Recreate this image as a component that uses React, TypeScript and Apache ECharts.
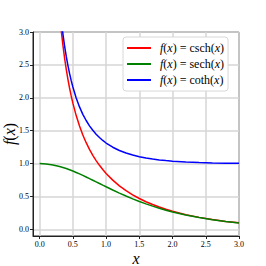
import React, { useEffect, useRef } from "react";
import * as echarts from "echarts";

const xTicks = [0, 0.5, 1.0, 1.5, 2.0, 2.5, 3.0];
const yTicks = [0, 0.5, 1.0, 1.5, 2.0, 2.5, 3.0];

const xSech = [0, 0.1, 0.2, 0.3, 0.4, 0.5, 0.55, 0.6, 0.65, 0.7, 0.75, 0.8, 0.85, 0.9, 0.95, 1.0, 1.1, 1.2, 1.3, 1.4, 1.5, 1.6, 1.7, 1.8, 1.9, 2.0, 2.2, 2.4, 2.6, 2.8, 3.0];
const ySech = [1.0, 0.995, 0.9803, 0.9566, 0.925, 0.8868, 0.8657, 0.8436, 0.8205, 0.7967, 0.7724, 0.7477, 0.7228, 0.6978, 0.6728, 0.648, 0.5993, 0.5523, 0.5074, 0.4649, 0.4251, 0.388, 0.3536, 0.3218, 0.2926, 0.2658, 0.2189, 0.18, 0.1478, 0.1212, 0.0993];

const xPole = [0.3, 0.325, 0.35, 0.375, 0.4, 0.425, 0.45, 0.475, 0.5, 0.55, 0.6, 0.65, 0.7, 0.75, 0.8, 0.85, 0.9, 0.95, 1.0, 1.1, 1.2, 1.3, 1.4, 1.5, 1.6, 1.7, 1.8, 1.9, 2.0, 2.2, 2.4, 2.6, 2.8, 3.0];
const yCsch = [3.284, 3.023, 2.8, 2.605, 2.435, 2.284, 2.149, 2.028, 1.919, 1.73, 1.571, 1.435, 1.318, 1.216, 1.126, 1.046, 0.974, 0.9095, 0.851, 0.749, 0.662, 0.589, 0.525, 0.47, 0.421, 0.378, 0.34, 0.306, 0.276, 0.224, 0.183, 0.149, 0.122, 0.0998];
const yCoth = [3.433, 3.185, 2.973, 2.79, 2.632, 2.493, 2.371, 2.261, 2.164, 1.998, 1.862, 1.749, 1.655, 1.574, 1.506, 1.447, 1.396, 1.352, 1.313, 1.249, 1.1995, 1.1605, 1.1295, 1.1048, 1.085, 1.0691, 1.0562, 1.0458, 1.0373, 1.0249, 1.0166, 1.0108, 1.0074, 1.005];

const names = ["csch", "sech", "coth"];
const colors = ["#ff0000", "#008000", "#0000ff"];

const SERIF = "Liberation Serif";

export default function App() {
  const ref = useRef<HTMLDivElement>(null);
  useEffect(() => {
    if (!ref.current) return;
    const chart = echarts.init(ref.current, null, { renderer: "svg" });
    const pairs = (xs: number[], ys: number[]) => xs.map((x, i) => [x, ys[i]]);
    const seriesData = [pairs(xPole, yCsch), pairs(xSech, ySech), pairs(xPole, yCoth)];
    const rich = {
      i: { fontStyle: "italic", fontFamily: SERIF, fontSize: 12, color: "#000" },
      n: { fontFamily: SERIF, fontSize: 12, color: "#000" },
    };
    chart.setOption({
      animation: false,
      backgroundColor: "#fff",
      grid: {
        left: 33,
        right: 27,
        top: 32,
        bottom: 30,
        outerBoundsMode: "none",
        containLabel: false,
        show: true,
        borderColor: "#222",
        borderWidth: 1,
        backgroundColor: "transparent",
      },
      graphic: [
        {
          type: "text",
          x: 9,
          y: 134,
          rotation: Math.PI / 2,
          style: {
            text: "{i|f}{n|(}{i|x}{n|)}",
            align: "center",
            verticalAlign: "middle",
            rich: {
              i: { fontStyle: "italic", fontFamily: SERIF, fontSize: 16, fill: "#000" },
              n: { fontFamily: SERIF, fontSize: 16, fill: "#000" },
            },
          },
        },
        {
          type: "text",
          x: 136,
          y: 258,
          style: {
            text: "x",
            align: "center",
            verticalAlign: "middle",
            fontFamily: SERIF,
            fontStyle: "italic",
            fontSize: 16,
            fill: "#000",
          },
        },
      ],
      legend: {
        orient: "vertical",
        left: 123,
        top: 37,
        itemWidth: 24,
        itemHeight: 2,
        itemGap: 4,
        icon: "rect",
        backgroundColor: "#fff",
        borderColor: "#d8d8d8",
        borderWidth: 1,
        borderRadius: 3,
        padding: [5, 4, 5, 4],
        data: names,
        formatter: (n: string) => `{i|f}{n|(}{i|x}{n|) = ${n}(}{i|x}{n|)}`,
        textStyle: { rich, fontFamily: SERIF, fontSize: 12, padding: [0, 0, 0, 4] },
      },
      xAxis: {
        type: "value",
        min: -0.1,
        max: 3.0,
        axisLine: { show: true, onZero: false, lineStyle: { color: "#222", width: 1 } },
        axisTick: { show: true, inside: false, length: 3, customValues: xTicks, lineStyle: { color: "#222" } },
        axisLabel: {
          customValues: xTicks,
          formatter: (v: number) => v.toFixed(1),
          fontFamily: SERIF,
          fontSize: 8,
          color: "#000",
          margin: 4,
        },
        splitLine: { show: true, lineStyle: { color: "#d6d6d6", width: 1.5 } },
      },
      yAxis: {
        type: "value",
        min: -0.1,
        max: 3.0,
        axisLine: { show: true, onZero: false, lineStyle: { color: "#222", width: 1 } },
        axisTick: { show: true, inside: false, length: 3, customValues: yTicks, lineStyle: { color: "#222" } },
        axisLabel: {
          customValues: yTicks,
          formatter: (v: number) => v.toFixed(1),
          fontFamily: SERIF,
          fontSize: 8,
          color: "#000",
          margin: 4,
        },
        splitLine: { show: true, lineStyle: { color: "#d6d6d6", width: 1.5 } },
      },
      series: names.map((n, k) => ({
        name: n,
        type: "line",
        data: seriesData[k],
        showSymbol: false,
        symbol: "none",
        smooth: false,
        clip: true,
        color: colors[k],
        lineStyle: { color: colors[k], width: 1.5 },
        z: 3,
      })),
    });
    return () => chart.dispose();
  }, []);
  return <div ref={ref} style={{ width: 266, height: 266, position: "absolute", left: 0, top: 0 }} />;
}
